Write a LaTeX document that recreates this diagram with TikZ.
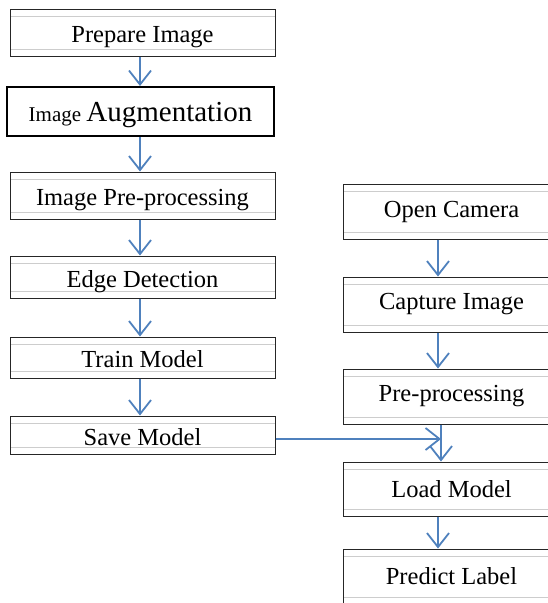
\documentclass[tikz,border=0pt]{standalone}
\usepackage{fontspec}
\setmainfont{Liberation Serif}
\usetikzlibrary{arrows.meta}
\definecolor{flowblue}{RGB}{79,129,189}
\definecolor{rulegray}{RGB}{205,205,205}
\tikzset{
  box/.style={draw=black!85, line width=1pt, fill=white, inner sep=0pt,
    font=\fontsize{24.5}{28}\selectfont,
    path picture={
      \draw[rulegray, line width=0.8pt]
        ([yshift=-7pt]path picture bounding box.north west) --
        ([yshift=-7pt]path picture bounding box.north east);
      \draw[rulegray, line width=0.8pt]
        ([yshift=7pt]path picture bounding box.south west) --
        ([yshift=7pt]path picture bounding box.south east);}},
  leftbox/.style={box, minimum width=265pt, text height=20pt, text depth=0pt},
  rightbox/.style={box, minimum width=217pt, minimum height=55pt},
  flow/.style={draw=flowblue, line width=1.8pt,
    -{Straight Barb[length=14pt,width=22pt,line width=1.8pt]}}
}
\begin{document}
\begin{tikzpicture}[x=1pt, y=-1pt]
  \useasboundingbox (0,0) rectangle (548,603);
  \clip (0,0) rectangle (548,603);

  % training side
  \node[leftbox, minimum height=47pt] (prep) at (142.5,32.5) {Prepare Image};
  \node[draw=black, line width=2pt, fill=white, minimum width=267pt,
    minimum height=49pt, inner sep=0pt, text height=20pt, text depth=0pt]
    (aug) at (140.5,111.5)
    {\fontsize{21}{24}\selectfont Image \fontsize{29}{32}\selectfont Augmentation};
  \node[leftbox, minimum height=47pt] (ipp) at (142.5,195.5) {Image Pre-processing};
  \node[leftbox, minimum height=42pt] (edge) at (142.5,277) {Edge Detection};
  \node[leftbox, minimum height=41pt] (train) at (142.5,357.5) {Train Model};
  \node[leftbox, minimum height=38pt] (save) at (142.5,435) {Save Model};

  % camera side
  \node[rightbox] (cam) at (451.5,211.5) {Open Camera};
  \node[rightbox] (cap) at (451.5,304.5) {Capture Image};
  \node[rightbox] (rpp) at (451.5,396.5) {Pre-processing};
  \node[rightbox, minimum height=54pt] (load) at (451.5,489) {Load Model};
  \node[rightbox] (pred) at (451.5,576.5) {Predict Label};

  \coordinate (lx) at (140,0);
  \coordinate (rx) at (438,0);
  \coordinate (join) at (441,439);

  \draw[flow] (prep.south -| lx) -- (aug.north -| lx);
  \draw[flow] (aug.south -| lx) -- (ipp.north -| lx);
  \draw[flow] (ipp.south -| lx) -- (edge.north -| lx);
  \draw[flow] (edge.south -| lx) -- (train.north -| lx);
  \draw[flow] (train.south -| lx) -- (save.north -| lx);

  \draw[flow] (cam.south -| rx) -- (cap.north -| rx);
  \draw[flow] (cap.south -| rx) -- (rpp.north -| rx);
  \draw[flow] (rpp.south -| join) -- (load.north -| join);
  \draw[flow] (load.south -| rx) -- (pred.north -| rx);

  \draw[flow] (save.east |- join) -- (join);
\end{tikzpicture}
\end{document}
